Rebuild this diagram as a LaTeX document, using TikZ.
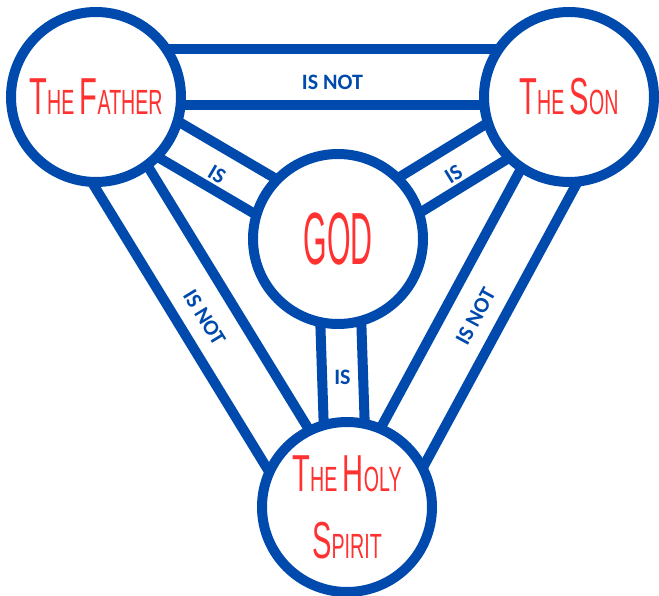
\documentclass[tikz,border=0pt]{standalone}
\usepackage{fontspec}
\usetikzlibrary{calc,backgrounds}
\newfontfamily\handfont[FakeStretch=0.56]{Liberation Sans}
\newfontfamily\godfont[FakeStretch=0.41]{Liberation Sans}
\newfontfamily\barfont{Carlito}
\definecolor{trinityblue}{HTML}{004AAD}
\definecolor{trinityred}{HTML}{FF3131}
\newcommand\bigletter[1]{{\fontsize{52}{67}\selectfont#1}}

\begin{document}
\begin{tikzpicture}[x=1pt,y=1pt,
  person/.style={circle,draw=trinityblue,line width=10pt,fill=white,
    minimum size=170pt,inner sep=0pt,align=center,text=trinityred,
    font=\handfont\fontsize{35}{67}\selectfont},
  barline/.style={draw=trinityblue,line width=10pt},
  barlabel/.style={inner sep=0pt,text=trinityblue,
    font=\barfont\bfseries\fontsize{22}{22}\selectfont}
]
  \useasboundingbox (0,0) rectangle (659,-596);
  \node[person] (father) at (96,-97) {\bigletter{T}HE \bigletter{F}ATHER};
  \node[person] (son) at (569,-97) {\bigletter{T}HE \bigletter{S}ON};
  \node[person,font=\godfont\fontsize{74}{74}\selectfont] (god) at (338,-239) {GOD};
  \node[person] (spirit) at (347,-507) {\bigletter{T}HE \bigletter{H}OLY\\\bigletter{S}PIRIT};

  \begin{pgfonlayer}{background}
    % outer ring: is not
    \foreach \a/\b in {father/son,son/spirit,spirit/father} {
      \draw[barline] ($(\a)!48pt!90:(\b)$) -- ($(\b)!48pt!-90:(\a)$);
      \draw[barline] ($(\a)!8pt!-90:(\b)$) -- ($(\b)!8pt!90:(\a)$);
      \path ($(\a)!20pt!90:(\b)+(0,-5)$) -- ($(\b)!20pt!-90:(\a)+(0,-5)$)
        node[barlabel,midway,sloped] {IS NOT};
    }
    % spokes: is
    \foreach \a in {father,son,spirit} {
      \draw[barline] ($(god)!20.5pt!90:(\a)$) -- ($(\a)!20.5pt!-90:(god)$);
      \draw[barline] ($(god)!20.5pt!-90:(\a)$) -- ($(\a)!20.5pt!90:(god)$);
    }
  \end{pgfonlayer}
  \path ($(father)+(0,-6)$) -- ($(god)+(0,-6)$) node[barlabel,midway,sloped] {IS};
  \path ($(son)+(0,-6)$) -- ($(god)+(0,-6)$) node[barlabel,midway,sloped] {IS};
  \path ($(god)+(0,-4)$) -- ($(spirit)+(0,-4)$) node[barlabel,midway] {IS};
\end{tikzpicture}
\end{document}
